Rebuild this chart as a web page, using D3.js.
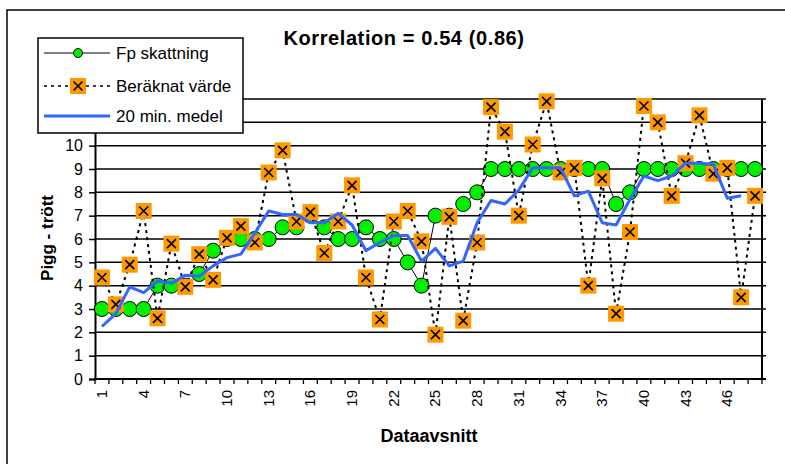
<!DOCTYPE html>
<html>
<head>
<meta charset="utf-8">
<script src="https://cdn.jsdelivr.net/npm/d3@7"></script>
<style>
  html, body { margin: 0; padding: 0; background: #fff; }
  svg { display: block; font-family: "Liberation Sans", Arial, sans-serif; }
</style>
</head>
<body>
<svg id="chart" width="785" height="464"></svg>
<script>
const categories = [1,2,3,4,5,6,7,8,9,10,11,12,13,14,15,16,17,18,19,20,21,22,23,24,25,26,27,28,29,30,31,32,33,34,35,36,37,38,39,40,41,42,43,44,45,46,47,48];
const fpSkattning = [3,3,3,3,4,4,4,4.5,5.5,6, 6,6,6,6.5,6.5,7,6.5,6,6,6.5, 6,6,5,4,7,7,7.5,8,9,9, 9,9,9,9,9,9,9,7.5,8,9, 9,9,9,9,9,9,9,9];
const beraknatVarde = [4.35,3.2,4.9,7.2,2.6,5.8,3.95,5.35,4.25,6.05, 6.55,5.85,8.85,9.8,6.75,7.15,5.4,6.75,8.3,4.35, 2.55,6.75,7.2,5.9,1.9,6.95,2.5,5.85,11.65,10.6, 7.0,10.05,11.9,8.85,9.05,4.0,8.6,2.8,6.3,11.7, 11.0,7.85,9.25,11.3,8.8,9.05,3.5,7.85];
const medel20 = [2.25,2.8,3.95,3.7,4.2,4.1,4.45,4.4,4.85,5.2, 5.35,6.25,7.2,7.05,7.05,6.7,6.7,7.1,6.6,5.5, 5.85,6.15,6.15,5.05,5.6,4.85,5.05,6.7,7.65,7.5, 8.1,9.05,9.05,9.05,7.85,8.05,6.7,6.6,7.7,8.7, 8.5,8.7,9.25,9.25,9.2,7.75,7.85,null];
const yTicks = [0,1,2,3,4,5,6,7,8,9,10,11,12];
const xLabelCats = [1,4,7,10,13,16,19,22,25,28,31,34,37,40,43,46];
const seriesNames = ["Fp skattning", "Beräknat värde", "20 min. medel"];
const titleText = "Korrelation = 0.54 (0.86)";
const xTitle = "Dataavsnitt";
const yTitle = "Pigg - trött";

const svg = d3.select("#chart");
const L = 95, R = 762, B = 379, T = 99;
const x = d3.scaleBand().domain(categories).range([L, R]);
const y = d3.scaleLinear().domain([0, 12]).range([B, T]);
const cx = c => x(c) + x.bandwidth() / 2;

// outer frame
svg.append("rect").attr("x", 7).attr("y", 10).attr("width", 800).attr("height", 500)
  .attr("fill", "#fff").attr("stroke", "#000").attr("stroke-width", 1.5);

// gridlines
svg.append("g").selectAll("line").data(yTicks).join("line")
  .attr("x1", L).attr("x2", R + 4)
  .attr("y1", d => y(d)).attr("y2", d => y(d))
  .attr("stroke", "#000").attr("stroke-width", 1.5);
// right border
svg.append("line").attr("x1", R).attr("x2", R).attr("y1", T).attr("y2", B)
  .attr("stroke", "#000").attr("stroke-width", 2);

// y axis
const yAxis = svg.append("g").attr("transform", `translate(${L},0)`)
  .call(d3.axisLeft(y).tickValues(yTicks).tickSize(6).tickPadding(6).tickFormat(d3.format("d")));
yAxis.select(".domain").attr("stroke", "#000").attr("stroke-width", 2);
yAxis.selectAll(".tick line").attr("stroke", "#000").attr("stroke-width", 1.5);
yAxis.selectAll(".tick text").attr("font-size", 16).attr("fill", "#000")
  .attr("font-family", "Liberation Sans, Arial, sans-serif");

// x axis
const xAxis = svg.append("g").attr("transform", `translate(0,${B})`)
  .call(d3.axisBottom(x).tickSize(0).tickFormat(""));
xAxis.select(".domain").remove();
svg.append("line").attr("x1", L - 1).attr("x2", R + 4).attr("y1", B).attr("y2", B)
  .attr("stroke", "#000").attr("stroke-width", 2);
svg.append("g").selectAll("line").data(categories.concat(["end"])).join("line")
  .attr("x1", d => d === "end" ? R : x(d)).attr("x2", d => d === "end" ? R : x(d))
  .attr("y1", B).attr("y2", B + 5)
  .attr("stroke", "#000").attr("stroke-width", 1.3);
svg.append("g").selectAll("text").data(xLabelCats).join("text")
  .attr("transform", d => `translate(${cx(d) + 5},${B + 11}) rotate(-90)`)
  .attr("text-anchor", "end").attr("font-size", 15).attr("fill", "#000")
  .text(d => d);

// Fp skattning
svg.append("path").datum(fpSkattning)
  .attr("d", d3.line().x((d, i) => cx(categories[i])).y(d => y(d)))
  .attr("fill", "none").attr("stroke", "#000").attr("stroke-width", 1);
svg.append("g").selectAll("circle").data(fpSkattning).join("circle")
  .attr("cx", (d, i) => cx(categories[i])).attr("cy", d => y(d)).attr("r", 7.5)
  .attr("fill", "#00f000").attr("stroke", "#000").attr("stroke-width", 1);

// Beräknat värde
svg.append("path").datum(beraknatVarde)
  .attr("d", d3.line().x((d, i) => cx(categories[i])).y(d => y(d)))
  .attr("fill", "none").attr("stroke", "#000").attr("stroke-width", 2)
  .attr("stroke-dasharray", "3,4");
function xMarker(g, s) {
  g.append("rect").attr("x", -s / 2).attr("y", -s / 2).attr("width", s).attr("height", s)
    .attr("fill", "#ff9900");
  const a = s / 2 - 3.5;
  g.append("path").attr("d", `M${-a},${-a}L${a},${a}M${-a},${a}L${a},${-a}`)
    .attr("stroke", "#000").attr("stroke-width", 1.6);
}
svg.append("g").selectAll("g").data(beraknatVarde).join("g")
  .attr("transform", (d, i) => `translate(${cx(categories[i])},${y(d)})`)
  .each(function () { xMarker(d3.select(this), 16); });

// 20 min. medel
svg.append("path").datum(medel20)
  .attr("d", d3.line().defined(d => d !== null).x((d, i) => cx(categories[i])).y(d => y(d)))
  .attr("fill", "none").attr("stroke", "#3366ff").attr("stroke-width", 3)
  .attr("stroke-linejoin", "round");

// title
svg.append("text").attr("x", 404).attr("y", 45).attr("text-anchor", "middle")
  .attr("font-size", 20).attr("font-weight", "bold").attr("letter-spacing", 0.6)
  .text(titleText);
// axis titles
svg.append("text").attr("x", 429).attr("y", 442).attr("text-anchor", "middle")
  .attr("font-size", 18).attr("font-weight", "bold").text(xTitle);
svg.append("text").attr("transform", "translate(53,238) rotate(-90)")
  .attr("text-anchor", "middle").attr("font-size", 17).attr("font-weight", "bold").text(yTitle);

// legend
const lg = svg.append("g");
lg.append("rect").attr("x", 38).attr("y", 38).attr("width", 205).attr("height", 95)
  .attr("fill", "#fff").attr("stroke", "#000").attr("stroke-width", 1.5);
const rows = [53, 86, 116];
lg.append("line").attr("x1", 44).attr("x2", 110).attr("y1", rows[0]).attr("y2", rows[0])
  .attr("stroke", "#000").attr("stroke-width", 1);
lg.append("circle").attr("cx", 78).attr("cy", rows[0]).attr("r", 4.5)
  .attr("fill", "#00f000").attr("stroke", "#000").attr("stroke-width", 1);
lg.append("line").attr("x1", 44).attr("x2", 110).attr("y1", rows[1]).attr("y2", rows[1])
  .attr("stroke", "#000").attr("stroke-width", 1.5).attr("stroke-dasharray", "3,4");
xMarker(lg.append("g").attr("transform", `translate(78,${rows[1]})`), 16);
lg.append("line").attr("x1", 44).attr("x2", 110).attr("y1", rows[2]).attr("y2", rows[2])
  .attr("stroke", "#3366ff").attr("stroke-width", 3);
lg.selectAll("text.lt").data(seriesNames).join("text").attr("class", "lt")
  .attr("x", 116).attr("y", (d, i) => rows[i] + 6)
  .attr("font-size", 17).attr("fill", "#000").text(d => d);
</script>
</body>
</html>
